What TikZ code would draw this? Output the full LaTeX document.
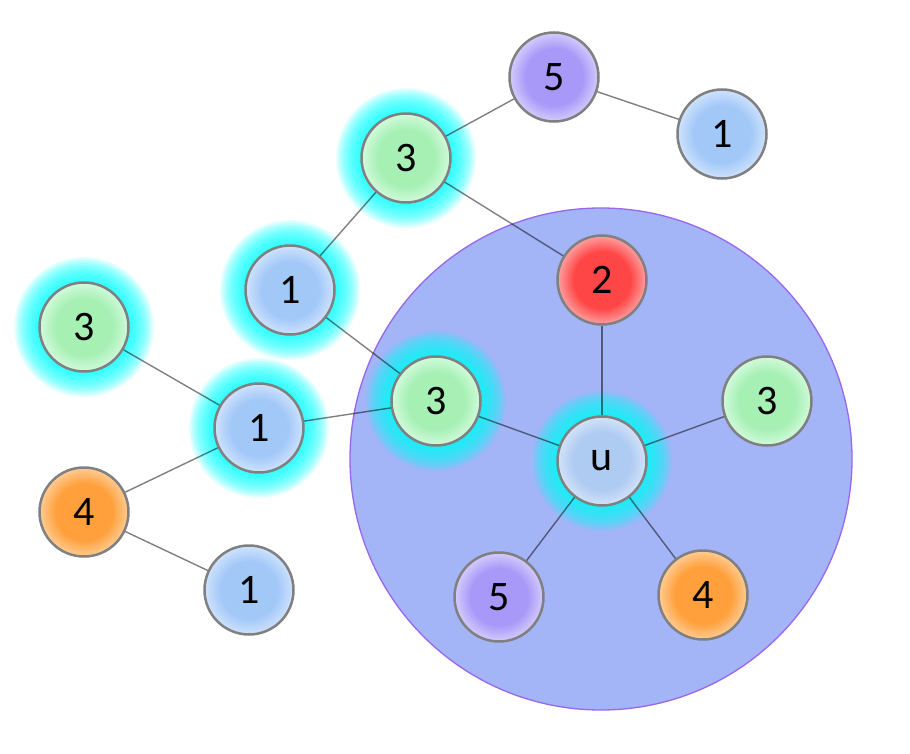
\documentclass[tikz,border=0pt]{standalone}
\usepackage{fontspec}
\setmainfont{Carlito}
\usepackage{xcolor}
\usetikzlibrary{positioning}

\definecolor{greenmain}{HTML}{A6F0B4}
\definecolor{greenlight}{HTML}{D2FADC}
\definecolor{bluemain}{HTML}{A2C8F8}
\definecolor{bluelight}{HTML}{CFE2FC}
\definecolor{umain}{HTML}{AECBF2}
\definecolor{ulight}{HTML}{D3E3F8}
\definecolor{purplemain}{HTML}{A898F8}
\definecolor{purplelight}{HTML}{D4CCFC}
\definecolor{orangemain}{HTML}{FFA03C}
\definecolor{orangelight}{HTML}{FFCC94}
\definecolor{redmain}{HTML}{FF4646}
\definecolor{redlight}{HTML}{FFA0A0}
\definecolor{ringgray}{HTML}{808080}
\definecolor{zonefill}{HTML}{A3B4F7}
\definecolor{zoneedge}{HTML}{9966EE}
\definecolor{halocyan}{HTML}{00FFFF}

% one shading per ball colour
\pgfdeclareradialshading{ballgreen}{\pgfpoint{0bp}{0bp}}{color(0bp)=(greenmain); color(16bp)=(greenmain); color(25bp)=(greenlight); color(50bp)=(greenlight)}
\pgfdeclareradialshading{ballblue}{\pgfpoint{0bp}{0bp}}{color(0bp)=(bluemain); color(16bp)=(bluemain); color(25bp)=(bluelight); color(50bp)=(bluelight)}
\pgfdeclareradialshading{ballu}{\pgfpoint{0bp}{0bp}}{color(0bp)=(umain); color(16bp)=(umain); color(25bp)=(ulight); color(50bp)=(ulight)}
\pgfdeclareradialshading{ballpurple}{\pgfpoint{0bp}{0bp}}{color(0bp)=(purplemain); color(16bp)=(purplemain); color(25bp)=(purplelight); color(50bp)=(purplelight)}
\pgfdeclareradialshading{ballorange}{\pgfpoint{0bp}{0bp}}{color(0bp)=(orangemain); color(16bp)=(orangemain); color(25bp)=(orangelight); color(50bp)=(orangelight)}
\pgfdeclareradialshading{ballred}{\pgfpoint{0bp}{0bp}}{color(0bp)=(redmain); color(16bp)=(redmain); color(25bp)=(redlight); color(50bp)=(redlight)}

\pgfdeclarelayer{zone}
\pgfdeclarelayer{halo}
\pgfsetlayers{zone,halo,main}

\tikzset{
    ball/.style={circle, draw=ringgray, line width=2.5pt, minimum size=89pt, inner sep=0pt,
        font=\fontsize{42}{46}\selectfont}, % every vertex
    green/.style={ball, shading=ballgreen},
    blue/.style={ball, shading=ballblue},
    ublue/.style={ball, shading=ballu},
    purple/.style={ball, shading=ballpurple},
    orange/.style={ball, shading=ballorange},
    red/.style={ball, shading=ballred},
    link/.style={draw=ringgray, line width=1.4pt, blend mode=multiply}, % edges darken over the zone
}
\newcommand{\glow}[1]{%
    \foreach \r in {46,47.5,...,70} {\fill[halocyan, opacity=0.09] (#1) circle (\r);}}

\begin{document}
\begin{tikzpicture}[x=1pt, y=-1pt]
        \useasboundingbox (0,0) rectangle (910,754);

        \node[purple] (t5) at (554,77) {5};
        \node[blue] (t1) at (722,134) {1};
        \node[green] (t3) at (406,158) {3};
        \node[blue] (m1) at (290,290) {1};
        \node[green] (l3) at (84,327) {3};
        \node[blue] (l1) at (259,428) {1};
        \node[orange] (l4) at (84,512) {4};
        \node[blue] (b1) at (249,590) {1};
        \node[green] (c3) at (436,401) {3};
        \node[red] (r2) at (602,280) {2};
        \node[ublue] (u) at (602,461) {u};
        \node[green] (r3) at (767,401) {3};
        \node[purple] (b5) at (499,597) {5};
        \node[orange] (b4) at (703,595) {4};

        % the neighbourhood of u
        \begin{pgfonlayer}{zone}
            \draw[fill=zonefill, draw=zoneedge, line width=1.3pt] (601,459) circle (251);
        \end{pgfonlayer}

        % highlighted vertices
        \begin{pgfonlayer}{halo}
            \foreach \n in {t3,m1,l3,l1,c3,u} {\glow{\n.center}}
        \end{pgfonlayer}

        \path[link]
                (t5) edge (t3)
                     edge (t1)
                (t3) edge (m1)
                     edge (r2)
                (m1) edge (c3)
                (l3) edge (l1)
                (l1) edge (c3)
                     edge (l4)
                (l4) edge (b1)
                (u)  edge (c3)
                     edge (r2)
                     edge (r3)
                     edge (b5)
                     edge (b4);
    \end{tikzpicture}
\end{document}
